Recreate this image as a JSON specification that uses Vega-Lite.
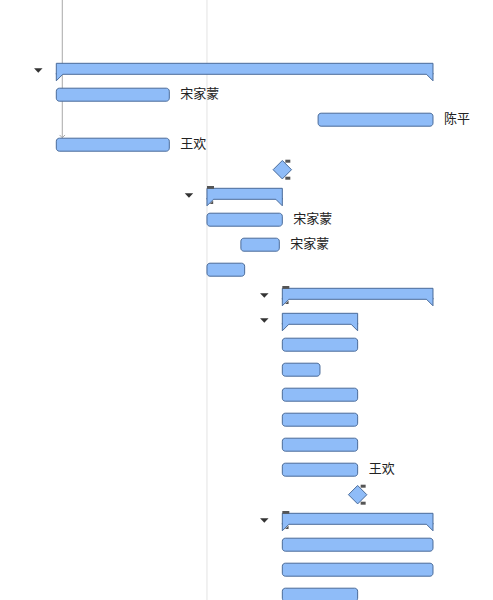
{
  "$schema": "https://vega.github.io/schema/vega-lite/v6.json",
  "width": 493,
  "height": 600,
  "autosize": {"type": "none"},
  "padding": 0,
  "background": "white",
  "config": {"view": {"stroke": null}, "scale": {"continuousPadding": 0}},
  "datasets": {
    "rows": [
      {"row": 0, "type": "summary", "start": 0, "end": 10, "label": "", "toggle": true, "marker": false},
      {"row": 1, "type": "task", "start": 0, "end": 3, "label": "宋家蒙", "toggle": false, "marker": false},
      {"row": 2, "type": "task", "start": 6.95, "end": 10, "label": "陈平", "toggle": false, "marker": false},
      {"row": 3, "type": "task", "start": 0, "end": 3, "label": "王欢", "toggle": false, "marker": false},
      {"row": 4, "type": "milestone", "start": 6, "end": 6, "label": "", "toggle": false, "marker": true},
      {"row": 5, "type": "summary", "start": 4, "end": 6, "label": "", "toggle": true, "marker": true},
      {"row": 6, "type": "task", "start": 4, "end": 6, "label": "宋家蒙", "toggle": false, "marker": false},
      {"row": 7, "type": "task", "start": 4.9, "end": 5.92, "label": "宋家蒙", "toggle": false, "marker": false},
      {"row": 8, "type": "task", "start": 4, "end": 5, "label": "", "toggle": false, "marker": false},
      {"row": 9, "type": "summary", "start": 6, "end": 10, "label": "", "toggle": true, "marker": true},
      {"row": 10, "type": "summary", "start": 6, "end": 8, "label": "", "toggle": true, "marker": false},
      {"row": 11, "type": "task", "start": 6, "end": 8, "label": "", "toggle": false, "marker": false},
      {"row": 12, "type": "task", "start": 6, "end": 7, "label": "", "toggle": false, "marker": false},
      {"row": 13, "type": "task", "start": 6, "end": 8, "label": "", "toggle": false, "marker": false},
      {"row": 14, "type": "task", "start": 6, "end": 8, "label": "", "toggle": false, "marker": false},
      {"row": 15, "type": "task", "start": 6, "end": 8, "label": "", "toggle": false, "marker": false},
      {"row": 16, "type": "task", "start": 6, "end": 8, "label": "王欢", "toggle": false, "marker": false},
      {"row": 17, "type": "milestone", "start": 8, "end": 8, "label": "", "toggle": false, "marker": true},
      {"row": 18, "type": "summary", "start": 6, "end": 10, "label": "", "toggle": true, "marker": true},
      {"row": 19, "type": "task", "start": 6, "end": 10, "label": "", "toggle": false, "marker": false},
      {"row": 20, "type": "task", "start": 6, "end": 10, "label": "", "toggle": false, "marker": false},
      {"row": 21, "type": "task", "start": 6, "end": 8, "label": "", "toggle": false, "marker": false}
    ],
    "grid": [{"day": 4}],
    "link": [{"x": 0.159, "y": -2.788, "y2": 2.74}]
  },
  "layer": [
    {
      "data": {"name": "grid"},
      "mark": {"type": "rule", "color": "#e3e3e3", "strokeWidth": 1},
      "encoding": {
        "x": {"field": "day", "type": "quantitative", "scale": {"domain": [-1.4945, 11.593], "nice": false, "zero": false, "padding": 0}, "axis": null}
      }
    },
    {
      "data": {"name": "link"},
      "mark": {"type": "rule", "color": "#a9a9a9", "strokeWidth": 1},
      "encoding": {
        "x": {"field": "x", "type": "quantitative", "scale": {"domain": [-1.4945, 11.593], "nice": false, "zero": false, "padding": 0}, "axis": null},
        "y": {"field": "y", "type": "quantitative", "scale": {"domain": [-2.788, 21.212], "reverse": true, "nice": false, "zero": false, "padding": 0}, "axis": null},
        "y2": {"field": "y2"}
      }
    },
    {
      "data": {"name": "link"},
      "mark": {"type": "point", "shape": "M-1,-1L0,0L1,-1", "size": 30, "filled": false, "stroke": "#a9a9a9", "strokeWidth": 1, "opacity": 1, "yOffset": -0.5},
      "encoding": {
        "x": {"field": "x", "type": "quantitative", "scale": {"domain": [-1.4945, 11.593], "nice": false, "zero": false, "padding": 0}, "axis": null},
        "y": {"field": "y2", "type": "quantitative", "scale": {"domain": [-2.788, 21.212], "reverse": true, "nice": false, "zero": false, "padding": 0}, "axis": null}
      }
    },
    {
      "data": {"name": "rows"},
      "transform": [{"filter": "datum.type === 'task'"}],
      "mark": {"type": "bar", "size": 13, "cornerRadius": 3, "fill": "#8fbcf8", "stroke": "#4a6b99", "strokeWidth": 1},
      "encoding": {
        "x": {"field": "start", "type": "quantitative", "scale": {"domain": [-1.4945, 11.593], "nice": false, "zero": false, "padding": 0}, "axis": null},
        "x2": {"field": "end"},
        "y": {"field": "row", "type": "quantitative", "scale": {"domain": [-2.788, 21.212], "reverse": true, "nice": false, "zero": false, "padding": 0}, "axis": null}
      }
    },
    {
      "data": {"name": "rows"},
      "transform": [{"filter": "datum.type === 'summary'"}],
      "mark": {"type": "bar", "size": 11, "yOffset": -0.9, "fill": "#8fbcf8", "stroke": "#4a6b99", "strokeWidth": 1},
      "encoding": {
        "x": {"field": "start", "type": "quantitative", "scale": {"domain": [-1.4945, 11.593], "nice": false, "zero": false, "padding": 0}, "axis": null},
        "x2": {"field": "end"},
        "y": {"field": "row", "type": "quantitative", "scale": {"domain": [-2.788, 21.212], "reverse": true, "nice": false, "zero": false, "padding": 0}, "axis": null}
      }
    },
    {
      "data": {"name": "rows"},
      "transform": [{"filter": "datum.type === 'summary'"}],
      "mark": {"type": "point", "shape": "M1,-1.4L1,-1L-1,1L-1,-1.4Z", "size": 42.25, "filled": true, "fill": "#8fbcf8", "strokeWidth": 0, "opacity": 1, "xOffset": 3.25, "yOffset": 7.85},
      "encoding": {
        "x": {"field": "start", "type": "quantitative", "scale": {"domain": [-1.4945, 11.593], "nice": false, "zero": false, "padding": 0}, "axis": null},
        "y": {"field": "row", "type": "quantitative", "scale": {"domain": [-2.788, 21.212], "reverse": true, "nice": false, "zero": false, "padding": 0}, "axis": null}
      }
    },
    {
      "data": {"name": "rows"},
      "transform": [{"filter": "datum.type === 'summary'"}],
      "mark": {"type": "point", "shape": "M1,-1L-1,1L-1,-1.4", "size": 42.25, "filled": false, "stroke": "#4a6b99", "strokeWidth": 1, "opacity": 1, "xOffset": 3.25, "yOffset": 7.85},
      "encoding": {
        "x": {"field": "start", "type": "quantitative", "scale": {"domain": [-1.4945, 11.593], "nice": false, "zero": false, "padding": 0}, "axis": null},
        "y": {"field": "row", "type": "quantitative", "scale": {"domain": [-2.788, 21.212], "reverse": true, "nice": false, "zero": false, "padding": 0}, "axis": null}
      }
    },
    {
      "data": {"name": "rows"},
      "transform": [{"filter": "datum.type === 'summary'"}],
      "mark": {"type": "point", "shape": "M-1,-1.4L-1,-1L1,1L1,-1.4Z", "size": 42.25, "filled": true, "fill": "#8fbcf8", "strokeWidth": 0, "opacity": 1, "xOffset": -3.25, "yOffset": 7.85},
      "encoding": {
        "x": {"field": "end", "type": "quantitative", "scale": {"domain": [-1.4945, 11.593], "nice": false, "zero": false, "padding": 0}, "axis": null},
        "y": {"field": "row", "type": "quantitative", "scale": {"domain": [-2.788, 21.212], "reverse": true, "nice": false, "zero": false, "padding": 0}, "axis": null}
      }
    },
    {
      "data": {"name": "rows"},
      "transform": [{"filter": "datum.type === 'summary'"}],
      "mark": {"type": "point", "shape": "M-1,-1L1,1L1,-1.4", "size": 42.25, "filled": false, "stroke": "#4a6b99", "strokeWidth": 1, "opacity": 1, "xOffset": -3.25, "yOffset": 7.85},
      "encoding": {
        "x": {"field": "end", "type": "quantitative", "scale": {"domain": [-1.4945, 11.593], "nice": false, "zero": false, "padding": 0}, "axis": null},
        "y": {"field": "row", "type": "quantitative", "scale": {"domain": [-2.788, 21.212], "reverse": true, "nice": false, "zero": false, "padding": 0}, "axis": null}
      }
    },
    {
      "data": {"name": "rows"},
      "transform": [{"filter": "datum.type === 'milestone'"}],
      "mark": {"type": "point", "shape": "diamond", "size": 340, "filled": true, "fill": "#8fbcf8", "stroke": "#4a6b99", "strokeWidth": 1, "opacity": 1},
      "encoding": {
        "x": {"field": "start", "type": "quantitative", "scale": {"domain": [-1.4945, 11.593], "nice": false, "zero": false, "padding": 0}, "axis": null},
        "y": {"field": "row", "type": "quantitative", "scale": {"domain": [-2.788, 21.212], "reverse": true, "nice": false, "zero": false, "padding": 0}, "axis": null}
      }
    },
    {
      "data": {"name": "rows"},
      "transform": [{"filter": "datum.type === 'summary' && datum.marker"}],
      "mark": {"type": "point", "shape": "M-1,-0.4L1,-0.4L1,0.4L-1,0.4Z", "size": 49, "filled": true, "fill": "#555555", "strokeWidth": 0, "opacity": 1, "xOffset": 3.5, "yOffset": -7.3},
      "encoding": {
        "x": {"field": "start", "type": "quantitative", "scale": {"domain": [-1.4945, 11.593], "nice": false, "zero": false, "padding": 0}, "axis": null},
        "y": {"field": "row", "type": "quantitative", "scale": {"domain": [-2.788, 21.212], "reverse": true, "nice": false, "zero": false, "padding": 0}, "axis": null}
      }
    },
    {
      "data": {"name": "rows"},
      "transform": [{"filter": "datum.type === 'summary' && datum.marker"}],
      "mark": {"type": "point", "shape": "M1,-1L1,1L-1,1Z", "size": 12, "filled": true, "fill": "#555555", "strokeWidth": 0, "opacity": 1, "xOffset": 4.5, "yOffset": 7.5},
      "encoding": {
        "x": {"field": "start", "type": "quantitative", "scale": {"domain": [-1.4945, 11.593], "nice": false, "zero": false, "padding": 0}, "axis": null},
        "y": {"field": "row", "type": "quantitative", "scale": {"domain": [-2.788, 21.212], "reverse": true, "nice": false, "zero": false, "padding": 0}, "axis": null}
      }
    },
    {
      "data": {"name": "rows"},
      "transform": [{"filter": "datum.type === 'milestone'"}],
      "mark": {"type": "point", "shape": "M-1,-0.6L1,-0.6L1,0.6L-1,0.6Z", "size": 25, "filled": true, "fill": "#555555", "strokeWidth": 0, "opacity": 1, "xOffset": 5.5, "yOffset": -8.5},
      "encoding": {
        "x": {"field": "start", "type": "quantitative", "scale": {"domain": [-1.4945, 11.593], "nice": false, "zero": false, "padding": 0}, "axis": null},
        "y": {"field": "row", "type": "quantitative", "scale": {"domain": [-2.788, 21.212], "reverse": true, "nice": false, "zero": false, "padding": 0}, "axis": null}
      }
    },
    {
      "data": {"name": "rows"},
      "transform": [{"filter": "datum.type === 'milestone'"}],
      "mark": {"type": "point", "shape": "M-1,-0.6L1,-0.6L1,0.6L-1,0.6Z", "size": 25, "filled": true, "fill": "#555555", "strokeWidth": 0, "opacity": 1, "xOffset": 5.5, "yOffset": 8.5},
      "encoding": {
        "x": {"field": "start", "type": "quantitative", "scale": {"domain": [-1.4945, 11.593], "nice": false, "zero": false, "padding": 0}, "axis": null},
        "y": {"field": "row", "type": "quantitative", "scale": {"domain": [-2.788, 21.212], "reverse": true, "nice": false, "zero": false, "padding": 0}, "axis": null}
      }
    },
    {
      "data": {"name": "rows"},
      "transform": [{"filter": "datum.toggle"}],
      "mark": {"type": "point", "shape": "M-1,-0.55L1,-0.55L0,0.55Z", "size": 72, "filled": true, "fill": "#333333", "strokeWidth": 0, "opacity": 1, "xOffset": -18, "yOffset": 0.8},
      "encoding": {
        "x": {"field": "start", "type": "quantitative", "scale": {"domain": [-1.4945, 11.593], "nice": false, "zero": false, "padding": 0}, "axis": null},
        "y": {"field": "row", "type": "quantitative", "scale": {"domain": [-2.788, 21.212], "reverse": true, "nice": false, "zero": false, "padding": 0}, "axis": null}
      }
    },
    {
      "data": {"name": "rows"},
      "transform": [{"filter": "datum.label !== ''"}],
      "mark": {"type": "text", "align": "left", "baseline": "middle", "dx": 11, "dy": -1, "font": "Noto Sans CJK SC", "fontSize": 13, "color": "#222222"},
      "encoding": {
        "x": {"field": "end", "type": "quantitative", "scale": {"domain": [-1.4945, 11.593], "nice": false, "zero": false, "padding": 0}, "axis": null},
        "y": {"field": "row", "type": "quantitative", "scale": {"domain": [-2.788, 21.212], "reverse": true, "nice": false, "zero": false, "padding": 0}, "axis": null},
        "text": {"field": "label"}
      }
    }
  ]
}
